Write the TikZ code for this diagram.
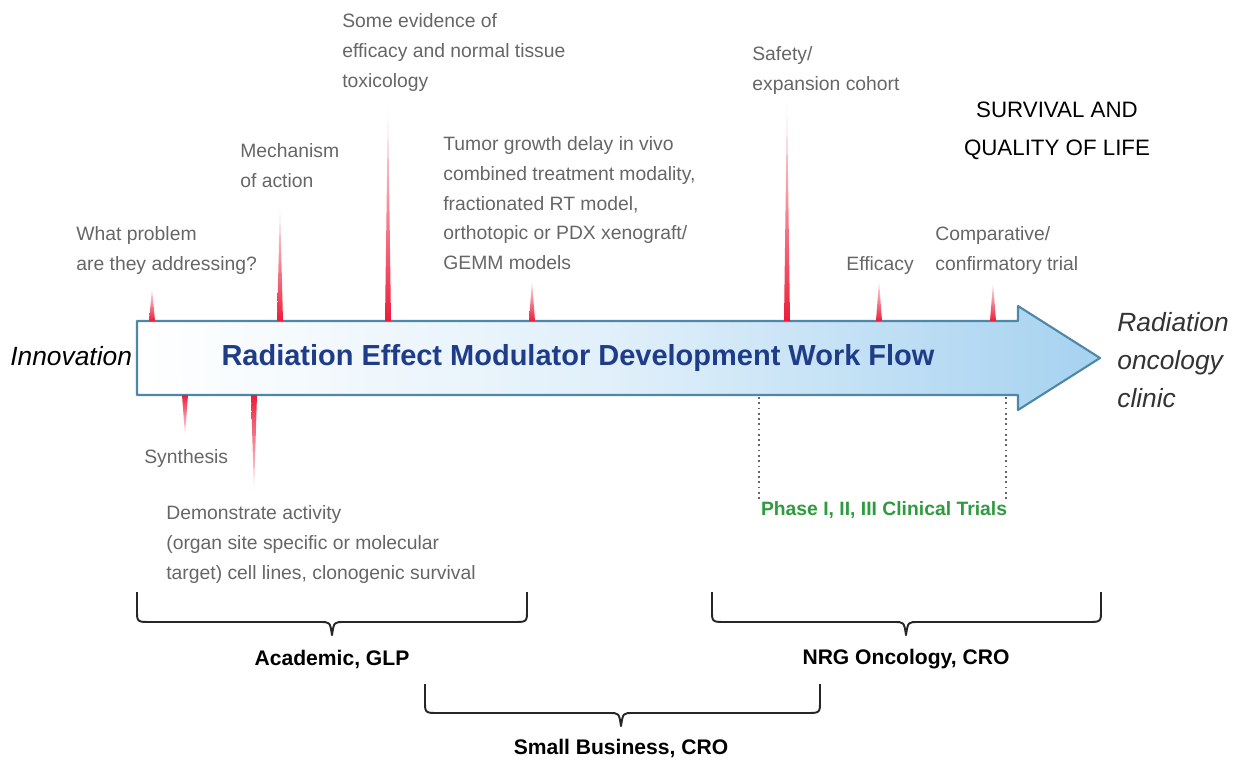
\documentclass[tikz,border=0pt]{standalone}
\usepackage{fontspec}
\setmainfont{Liberation Sans}

\definecolor{flowblue}{HTML}{A6D2F0}
\definecolor{flowedge}{HTML}{4F87A8}
\definecolor{titleblue}{HTML}{1F3C88}
\definecolor{notegray}{HTML}{666666}
\definecolor{trialgreen}{HTML}{2E9B3E}
\definecolor{spikered}{HTML}{EC1C3A}

\tikzset{
  note/.style={anchor=north west, inner sep=0pt, align=left, text=notegray,
    font=\fontsize{11}{17}\selectfont},
  org/.style={inner sep=0pt, font=\bfseries\fontsize{12}{14}\selectfont},
  brc/.style={line width=1.1pt, black!85, line join=round},
}

% spike above or below the arrow: x, far end, edge of arrow
\newcommand{\spikeup}[2]{%
  \shade[top color=spikered!6, bottom color=spikered] (#1-3,321) -- (#1,#2) -- (#1+3,321) -- cycle;}
\newcommand{\spikedown}[2]{%
  \shade[top color=spikered, bottom color=spikered!6] (#1-3,395) -- (#1,#2) -- (#1+3,395) -- cycle;}
% brace: left, right, top, bottom, middle
\newcommand{\orgbrace}[5]{%
  \draw[brc] (#1,#3) -- (#1,#4-12) .. controls (#1,#4) .. (#1+14,#4) -- (#5-12,#4)
    .. controls (#5-2,#4) .. (#5,#4+13) .. controls (#5+2,#4) .. (#5+12,#4)
    -- (#2-14,#4) .. controls (#2,#4) .. (#2,#4-12) -- (#2,#3);}

\begin{document}
\begin{tikzpicture}[x=0.02cm, y=-0.02cm]
  \useasboundingbox (0,0) rectangle (1238,762);

  % the big arrow
  \shade[left color=white, right color=flowblue, middle color=flowblue!35]
    (137,321) -- (1018,321) -- (1018,306) -- (1100,358) -- (1018,410) -- (1018,395) -- (137,395) -- cycle;
  \draw[flowedge, line width=1.2pt, line join=round]
    (137,321) -- (1018,321) -- (1018,306) -- (1100,358) -- (1018,410) -- (1018,395) -- (137,395) -- cycle;
  \node[text=titleblue, font=\bfseries\fontsize{16.5}{18}\selectfont] (title) at (578,358)
    {Radiation Effect Modulator Development Work Flow};

  % ends of the work flow
  \node[anchor=west, inner sep=0pt, font=\itshape\fontsize{15}{18}\selectfont] (innov) at (10,356) {Innovation};
  \node[anchor=north west, inner sep=0pt, align=left, text=black!80,
    font=\itshape\fontsize{15}{21.5}\selectfont] (clinic) at (1117,312) {Radiation\\oncology\\clinic};
  \node[anchor=north, inner sep=0pt, align=center, font=\fontsize{12.7}{21.5}\selectfont] (qol) at (1057,102)
    {SURVIVAL AND\\QUALITY OF LIFE};

  % steps above the arrow
  \spikeup{152}{288}
  \spikeup{280}{206}
  \spikeup{388}{104}
  \spikeup{532}{280}
  \spikeup{787}{100}
  \spikeup{879}{280}
  \spikeup{993}{282}
  \node[note] (problem) at (76,226) {What problem\\are they addressing?};
  \node[note] (mech) at (240,143) {Mechanism\\of action};
  \node[note] (evid) at (342,13) {Some evidence of\\efficacy and normal tissue\\toxicology};
  \node[note] (tumor) at (443,136) {Tumor growth delay in vivo\\combined treatment modality,\\fractionated RT model,\\orthotopic or PDX xenograft/\\GEMM models};
  \node[note] (safety) at (752,46) {Safety/\\expansion cohort};
  \node[note] (effic) at (846,256) {Efficacy};
  \node[note] (compar) at (935,226) {Comparative/\\confirmatory trial};

  % steps below the arrow
  \spikedown{185}{435}
  \spikedown{254}{492}
  \node[note] (synth) at (144,449) {Synthesis};
  \node[note] (demo) at (166,505) {Demonstrate activity\\(organ site specific or molecular\\target) cell lines, clonogenic survival};

  % clinical trials
  \coordinate (trialL) at (759,397);
  \coordinate (trialR) at (1006,397);
  \node[org, text=trialgreen, font=\bfseries\fontsize{11}{13}\selectfont] (trials) at (884,510) {Phase I, II, III Clinical Trials};
  \draw[black!60, dotted, line width=1pt] (trialL) -- (trialL |- trials.north);
  \draw[black!60, dotted, line width=1pt] (trialR) -- (trialR |- trials.north);

  % who does it
  \orgbrace{137}{527}{592}{622}{332}
  \orgbrace{712}{1101}{592}{622}{906}
  \orgbrace{425}{820}{684}{713}{621}
  \node[org] (acad) at (332,659) {Academic, GLP};
  \node[org] (nrg) at (906,659) {NRG Oncology, CRO};
  \node[org] (small) at (621,748) {Small Business, CRO};
\end{tikzpicture}
\end{document}
